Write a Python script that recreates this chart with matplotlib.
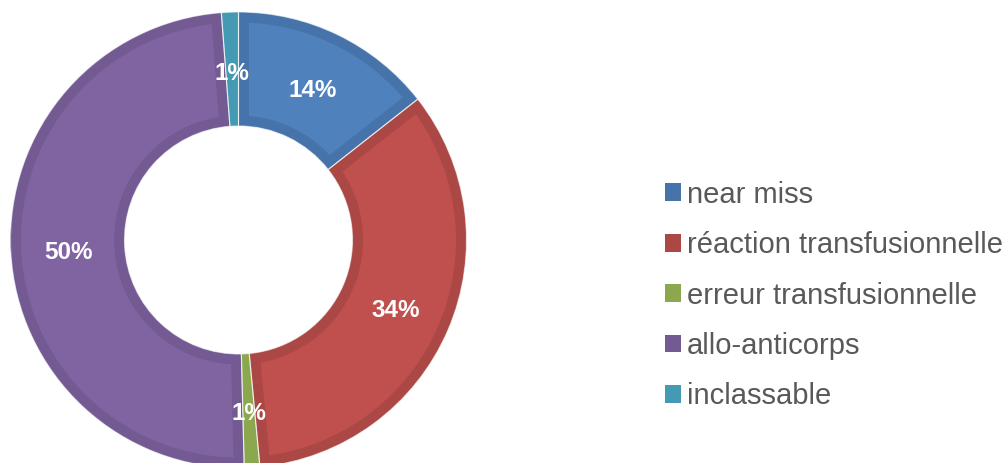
import numpy as np
import matplotlib
matplotlib.use("Agg")
import matplotlib.pyplot as plt
from matplotlib.patches import Patch, Polygon, Wedge

plt.rcParams['font.family'] = ['Liberation Sans', 'DejaVu Sans']

categories = ['near miss', 'réaction transfusionnelle', 'erreur transfusionnelle',
              'allo-anticorps', 'inclassable']
shares = [14.4, 34.1, 1.1, 49.2, 1.2]
pct_labels = ['14%', '34%', '1%', '50%', '1%']

fills = ['#4F81BD', '#C0504D', '#9BBB59', '#8064A2', '#4BACC6']
borders = ['#4674AA', '#AB4744', '#8BA84F', '#735A93', '#439AB2']

R_OUT, R_IN = 1.0, 0.5
INSET = 10.5 / 228  # darker border band, in radius units


def inset_polygon(a1, a2, d):
    """Inner part of a ring wedge shrunk by d on every side (None if too thin)."""
    r2, r1 = R_OUT - d, R_IN + d
    t1o, t2o = np.radians(a1) + np.arcsin(d / r2), np.radians(a2) - np.arcsin(d / r2)
    t1i, t2i = np.radians(a1) + np.arcsin(d / r1), np.radians(a2) - np.arcsin(d / r1)
    if t2i <= t1i:
        return None
    outer = np.linspace(t1o, t2o, 120)
    inner = np.linspace(t2i, t1i, 120)
    xs = np.concatenate([r2 * np.cos(outer), r1 * np.cos(inner)])
    ys = np.concatenate([r2 * np.sin(outer), r1 * np.sin(inner)])
    return np.column_stack([xs, ys])


fig = plt.figure(figsize=(10.08, 4.63), dpi=100)
# pie area: centre at (238.5, 240) px, radius 228 px
ax = fig.add_axes([10.5 / 1008, -5 / 463, 456 / 1008, 456 / 463])

wedges, _ = ax.pie(shares, colors=borders, startangle=90, counterclock=False,
                   radius=R_OUT, wedgeprops=dict(width=R_OUT - R_IN, linewidth=0))

for w, fc in zip(wedges, fills):
    pts = inset_polygon(w.theta1, w.theta2, INSET)
    if pts is not None:
        ax.add_patch(Polygon(pts, closed=True, facecolor=fc, edgecolor='none'))

# thin light separators between the slices
for w in wedges:
    ax.add_patch(Wedge((0, 0), R_OUT, w.theta1, w.theta2, width=R_OUT - R_IN,
                       facecolor='none', edgecolor='white', linewidth=0.8, alpha=0.6))

for w, lab in zip(wedges, pct_labels):
    mid = np.deg2rad((w.theta1 + w.theta2) / 2)
    ax.text(0.748 * np.cos(mid), 0.748 * np.sin(mid) - 3.5 / 228, lab, color='white',
            fontsize=17.5, fontweight='bold', ha='center', va='center')

ax.set_xlim(-1, 1)
ax.set_ylim(-1, 1)
ax.set_aspect('equal')
ax.axis('off')

handles = [Patch(facecolor=c, edgecolor='none') for c in borders]
fig.legend(handles, categories, loc='center left',
           bbox_to_anchor=(665 / 1008, 1 - 295.5 / 463),
           frameon=False, fontsize=21, labelcolor='#595959',
           handlelength=0.55, handleheight=0.55, handletextpad=0.2,
           labelspacing=0.77, borderpad=0, borderaxespad=0)

fig.savefig('out.png', dpi=100)
